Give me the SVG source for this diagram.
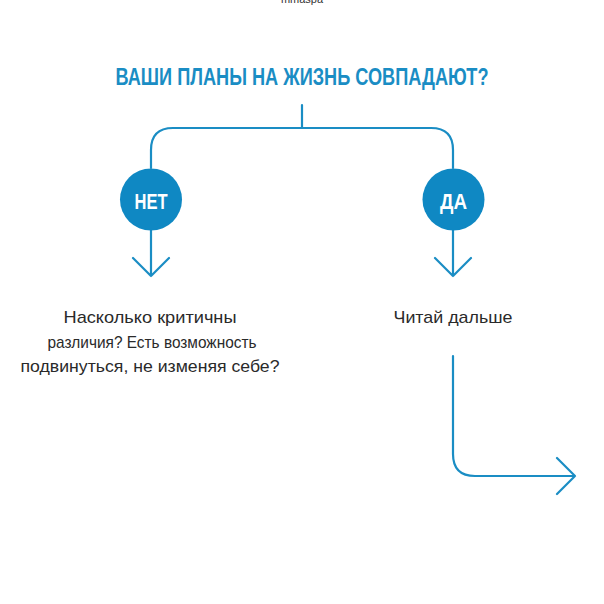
<svg xmlns="http://www.w3.org/2000/svg" width="604" height="604" viewBox="0 0 604 604">
<defs>
<style>
.ln{fill:none;stroke:#1a8dc4;stroke-width:2.2;stroke-linecap:round;stroke-linejoin:round}
.title{font-family:"Liberation Sans",Arial,sans-serif;font-weight:bold;font-size:23px;fill:#1a8dc4}
.circ{fill:#0f88c3}
.lbl{font-family:"Liberation Sans",Arial,sans-serif;font-weight:bold;font-size:22px;fill:#ffffff}
.body{font-family:"Liberation Sans",Arial,sans-serif;font-size:17px;fill:#2a2a2a}
.wm{font-family:"Liberation Sans",Arial,sans-serif;font-size:11px;fill:#333}
</style>
</defs>
<rect width="604" height="604" fill="#ffffff"/>
<text class="wm" x="302" y="3" text-anchor="middle">mmaspa</text>
<g id="title">
<text class="title" x="302" y="85" text-anchor="middle" textLength="373" lengthAdjust="spacingAndGlyphs">ВАШИ ПЛАНЫ НА ЖИЗНЬ СОВПАДАЮТ?</text>
</g>
<g id="connectors">
<path class="ln" d="M302,105 V128"/>
<path class="ln" d="M151,168 V150 Q151,128 173,128 H431 Q453,128 453,150 V168"/>
<path class="ln" d="M151,230 V276 M133,258 L151,276 L169,258"/>
<path class="ln" d="M453,230 V276 M435,258 L453,276 L471,258"/>
<path class="ln" d="M453,356 V454 Q453,476 475,476 H575 M557,458 L575,476 L557,494"/>
</g>
<g id="node-net">
<circle class="circ" cx="151" cy="199.5" r="31"/>
<text class="lbl" x="151" y="209" text-anchor="middle" textLength="33" lengthAdjust="spacingAndGlyphs">НЕТ</text>
</g>
<g id="node-da">
<circle class="circ" cx="453.5" cy="199.5" r="31"/>
<text class="lbl" x="453.5" y="209" text-anchor="middle" textLength="27" lengthAdjust="spacingAndGlyphs">ДА</text>
</g>
<g id="text-net">
<text class="body" x="150" y="323" text-anchor="middle" textLength="173" lengthAdjust="spacingAndGlyphs">Насколько критичны</text>
<text class="body" x="152" y="347.5" text-anchor="middle" textLength="209" lengthAdjust="spacingAndGlyphs">различия? Есть возможность</text>
<text class="body" x="150" y="372" text-anchor="middle" textLength="259" lengthAdjust="spacingAndGlyphs">подвинуться, не изменяя себе?</text>
</g>
<g id="text-da">
<text class="body" x="453" y="323" text-anchor="middle" textLength="119" lengthAdjust="spacingAndGlyphs">Читай дальше</text>
</g>
</svg>
